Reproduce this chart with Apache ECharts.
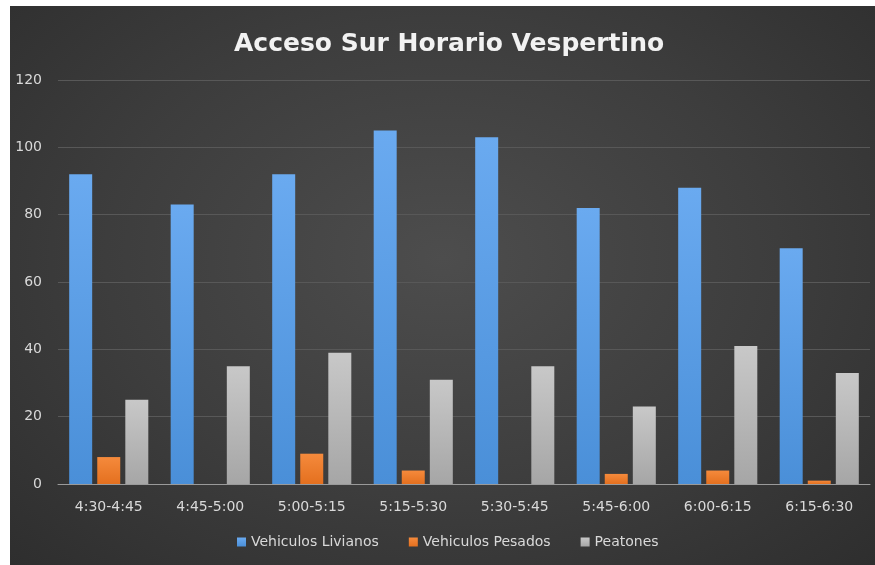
<!DOCTYPE html>
<html>
<head>
<meta charset="utf-8">
<script src="https://cdn.jsdelivr.net/npm/echarts@6/dist/echarts.min.js"></script>
<style>
  html, body { margin: 0; padding: 0; background: #fff; }
  .bg {
    position: absolute; left: 10px; top: 6px; width: 865px; height: 559px;
    background: radial-gradient(ellipse at 50% 45%, #4d4d4d 0%, #3d3d3d 55%, #2e2e2e 100%);
  }
  #chart { position: absolute; left: 0; top: 0; width: 875px; height: 565px; }
</style>
</head>
<body>
<div class="bg"></div>
<div id="chart"></div>
<script>
// categorias (intervalos de 15 minutos)
const categories = ['4:30-4:45', '4:45-5:00', '5:00-5:15', '5:15-5:30', '5:30-5:45', '5:45-6:00', '6:00-6:15', '6:15-6:30'];
const livianos = [92, 83, 92, 105, 103, 82, 88, 70];
const pesados = [8, 0, 9, 4, 0, 3, 4, 1];
const peatones = [25, 35, 39, 31, 35, 23, 41, 33];
const yTicks = [0, 20, 40, 60, 80, 100, 120];

const fuente = '"DejaVu Sans", Verdana, sans-serif';

const chart = echarts.init(document.getElementById('chart'));

// degradado vertical para cada barra
function grad(top, bottom) {
  return new echarts.graphic.LinearGradient(0, 0, 0, 1, [
    { offset: 0, color: top },
    { offset: 1, color: bottom }
  ]);
}

const option = {
  backgroundColor: 'transparent',
  animation: false,
  title: {
    text: 'Acceso Sur Horario Vespertino',
    left: 229,
    top: 27,
    textStyle: { color: '#f2f2f2', fontSize: 25, fontWeight: 'bold', fontFamily: fuente }
  },
  legend: {
    bottom: 11,
    left: 232,
    itemWidth: 9,
    itemHeight: 9,
    itemGap: 30,
    itemTextGap: 4,
    icon: 'rect',
    textStyle: { color: '#d9d9d9', fontSize: 14, fontFamily: fuente },
    data: ['Vehiculos Livianos', 'Vehiculos Pesados', 'Peatones']
  },
  grid: { left: 58, right: 5, top: 80, bottom: 81 },
  xAxis: {
    type: 'category',
    data: categories,
    axisLine: { lineStyle: { color: '#9a9a9a', width: 1 } },
    axisTick: { show: false },
    axisLabel: { color: '#d9d9d9', fontSize: 14, margin: 16, fontFamily: fuente }
  },
  yAxis: {
    type: 'value',
    min: yTicks[0],
    max: yTicks[yTicks.length - 1],
    interval: 20,
    axisLine: { show: false },
    axisTick: { show: false },
    axisLabel: { color: '#d9d9d9', fontSize: 14, margin: 16, fontFamily: fuente },
    splitLine: { lineStyle: { color: '#585858', width: 1 } }
  },
  series: [
    {
      name: 'Vehiculos Livianos',
      type: 'bar',
      data: livianos,
      barWidth: 23,
      barGap: '22%',
      itemStyle: { color: grad('#6aaaf0', '#4a8fd8') }
    },
    {
      name: 'Vehiculos Pesados',
      type: 'bar',
      data: pesados,
      barWidth: 23,
      barGap: '22%',
      itemStyle: { color: grad('#f58a3c', '#e4701f') }
    },
    {
      name: 'Peatones',
      type: 'bar',
      data: peatones,
      barWidth: 23,
      barGap: '22%',
      itemStyle: { color: grad('#c8c8c8', '#a6a6a6') }
    }
  ]
};

chart.setOption(option);
</script>
</body>
</html>
